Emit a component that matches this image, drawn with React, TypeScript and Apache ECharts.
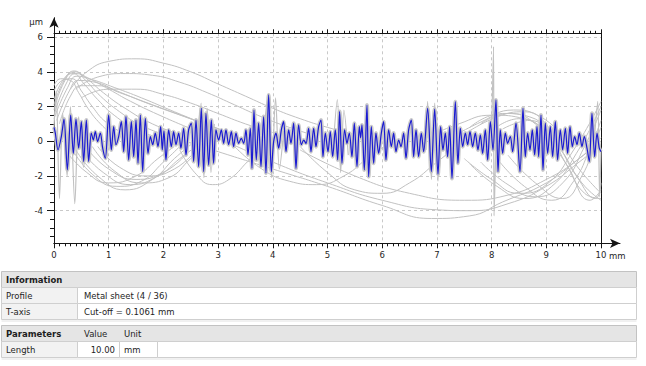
import React, { useEffect, useRef } from "react";
import * as echarts from "echarts";

type P = [number, number];

// ---------- axis ticks ----------
const xMax = 10;
const yMin = -5.88;
const yMax = 6.22;
const yMajorTicks = [-4, -2, 0, 2, 4, 6];
const yMinorTicks = [-5.5, -5, -4.5, -3.5, -3, -2.5, -1.5, -1, -0.5, 0.5, 1, 1.5, 2.5, 3, 3.5, 4.5, 5, 5.5];

// ---------- blue profile (profile 4 of 36), read segment by segment ----------
const blue0: P[] = [[0,0.8],[0.024,0.47],[0.073,-0.5],[0.134,0.27],[0.183,1.28],[0.244,-1.65],[0.305,1.51],[0.353,-0.7],[0.402,1.28],[0.451,-0.4],[0.5,1.13],[0.542,-1.17],[0.591,1.22],[0.634,-1.17],[0.682,0.47],[0.719,0.07],[0.755,0.55],[0.798,-0.02],[0.847,0.47],[0.89,-0.4],[0.938,-0.98],[0.999,1.51],[1.048,-0.5],[1.091,0.84],[1.133,-0.2],[1.182,0.27],[1.231,1.13],[1.274,-0.6],[1.316,1.42],[1.365,-1.08],[1.414,1.13],[1.457,-0.89],[1.499,1.22],[1.536,-1.27],[1.578,1.51],[1.621,-1.75],[1.67,1.32],[1.719,-0.7],[1.761,0.27],[1.804,-0.2],[1.852,0.47],[1.901,-0.31],[1.95,0.84],[1.98,-0.5]];
const blue1: P[] = [[2.01,0.6],[2.047,-1.08],[2.096,0.65],[2.145,-0.31],[2.187,0.55],[2.23,-0.2],[2.279,0.47],[2.321,-0.4],[2.37,0.75],[2.413,-0.79],[2.461,0.65],[2.51,1.04],[2.553,-1.17],[2.596,1.22],[2.644,-1.46],[2.693,1.9],[2.736,-1.75],[2.778,1.61],[2.827,-1.37],[2.876,1.22],[2.918,-1.27],[2.961,0.65],[3.01,0.07],[3.059,0.65],[3.101,-0.12],[3.144,0.65],[3.193,-0.2],[3.242,0.55],[3.284,-0.31],[3.327,0.47],[3.376,-0.12],[3.424,0.17],[3.467,-0.12],[3.51,0.65],[3.546,-0.79],[3.589,0.75],[3.619,-1.56],[3.656,1.8],[3.698,-1.08],[3.741,1.04],[3.784,-1.46],[3.832,1.42],[3.875,-1.84],[3.924,2.67],[3.973,-1.75]];
const blue2: P[] = [[4.015,-0.02],[4.058,0.47],[4.107,-0.4],[4.156,0.65],[4.198,1.13],[4.241,-0.6],[4.29,0.65],[4.332,-0.12],[4.381,1.04],[4.424,-1.56],[4.472,0.94],[4.521,-0.2],[4.564,0.07],[4.607,-0.12],[4.655,0.75],[4.698,-0.6],[4.747,0.75],[4.789,-0.31],[4.838,0.84],[4.881,1.22],[4.917,-0.89],[4.96,0.47],[5.009,-0.6],[5.051,0.55],[5.094,-0.89],[5.143,0.65],[5.186,-1.08],[5.222,1.71],[5.265,-1.27],[5.313,0.65],[5.356,-0.12],[5.399,0.47],[5.447,-0.89],[5.49,1.04],[5.539,-1.46],[5.582,0.84],[5.606,0.2],[5.63,0.94],[5.673,-1.65],[5.722,2.09],[5.752,-2.04],[5.801,0.84],[5.844,-1.27],[5.886,0.47],[5.935,-0.7],[5.984,0.47]];
const blue3: P[] = [[6.026,1.13],[6.069,-1.08],[6.118,0.65],[6.167,-0.31],[6.209,0.47],[6.252,-0.6],[6.301,0.07],[6.343,-0.31],[6.392,0.47],[6.435,-0.98],[6.483,0.65],[6.532,1.22],[6.575,-0.89],[6.618,0.65],[6.666,-0.89],[6.715,0.47],[6.758,-0.6],[6.831,1.9],[6.898,-1.75],[6.959,1.85],[7.02,-1.9],[7.068,0.84],[7.111,-0.5],[7.154,0.47],[7.196,-0.89],[7.233,0.84],[7.276,-2.14],[7.337,2.28],[7.385,-1.27],[7.428,0.75],[7.471,-0.31],[7.52,0.47],[7.562,-0.2],[7.605,0.55],[7.654,-0.31],[7.702,0.47],[7.751,-0.5],[7.794,0.37],[7.836,-0.7],[7.885,0.65],[7.928,-1.08],[7.977,1.13]];
const blue4: P[] = [[8.025,-0.5],[8.08,2.38],[8.117,-1.75],[8.159,0.65],[8.202,-0.7],[8.251,0.47],[8.293,-0.12],[8.342,0.27],[8.385,-0.6],[8.446,1.04],[8.519,-1.75],[8.574,1.9],[8.616,-0.89],[8.659,0.47],[8.702,-0.5],[8.744,0.65],[8.787,-0.79],[8.83,0.84],[8.86,-0.89],[8.903,1.51],[8.94,-1.65],[8.982,1.04],[9.025,-0.7],[9.073,0.84],[9.116,-0.89],[9.165,1.13],[9.207,-1.08],[9.256,0.65],[9.299,-0.5],[9.348,0.75],[9.39,-0.7],[9.433,0.84],[9.476,-0.31],[9.518,0.27],[9.561,-0.2],[9.604,0.47],[9.652,-0.31],[9.695,0.27],[9.744,-0.4],[9.786,-1.17],[9.835,1.61],[9.884,-0.89],[9.927,0.47],[9.969,-0.4],[10,-0.6]];

// ---------- gray: sharp excursions of the other profiles ----------
const spike0: P[] = [[0,0.8],[0.04,2.9],[0.1,-3.3],[0.16,1.6],[0.24,-2.0],[0.3,2.0],[0.38,-3.6],[0.45,1.4],[0.54,-1.5],[0.6,0.5]];
const spike1: P[] = [[2.6,-0.5],[2.69,2.2],[2.74,-2.1],[2.8,1.9],[2.87,-1.8],[2.93,1.0]];
const spike2: P[] = [[3.83,0.5],[3.92,2.7],[3.98,-2.1],[4.05,2.5],[4.12,-1.6],[4.2,0.6]];
const spike3: P[] = [[5.1,-0.5],[5.18,2.4],[5.24,-1.8],[5.3,1.8],[5.38,-0.8]];
const spike4: P[] = [[6.8,-0.5],[6.83,2.3],[6.9,-2.2],[6.96,2.2],[7.02,-2.3],[7.1,0.5]];
const spike5: P[] = [[8.0,0.2],[8.035,5.45],[8.045,-4.3],[8.1,1.2],[8.13,-0.5]];
const spike6: P[] = [[9.88,0.2],[9.94,2.3],[9.975,-3.2],[10,-0.5]];

// ---------- gray: smooth long-wave profiles ----------
const arcA: P[] = [[0.3,3.0],[0.6,4.0],[1.0,4.6],[1.5,4.75],[2.0,4.5],[2.5,4.0],[3.0,3.3],[3.5,2.6],[4.0,1.9],[4.5,1.3],[5.0,0.8],[5.5,0.4],[6.0,0.1]];
const arcB: P[] = [[0.4,3.0],[0.8,3.7],[1.3,3.9],[1.8,3.8],[2.3,3.4],[2.8,2.8],[3.3,2.1],[3.8,1.4],[4.3,0.8],[4.8,0.3]];
const arcC: P[] = [[0.5,2.5],[1.0,3.0],[1.5,3.0],[2.0,2.7],[2.5,2.2],[3.0,1.6],[3.5,1.0],[4.0,0.5]];
const fan1: P[] = [[0,1.8],[0.2,3.5],[0.38,4.0],[0.6,3.6],[0.9,2.8],[1.3,1.9],[1.8,1.0],[2.3,0.4]];
const fan2: P[] = [[0,1.5],[0.22,3.3],[0.4,3.9],[0.65,3.6],[1.0,3.0],[1.4,2.3],[2.0,1.4],[2.6,0.6]];
const fan3: P[] = [[0,1.3],[0.25,3.1],[0.42,3.75],[0.7,3.55],[1.1,3.1],[1.6,2.5],[2.2,1.7],[2.9,0.8]];
const fan4: P[] = [[0,2.4],[0.18,3.6],[0.35,3.9],[0.55,3.3],[0.8,2.4],[1.1,1.5],[1.5,0.7],[1.9,0.2]];
const fan5: P[] = [[0,2.9],[0.15,3.5],[0.33,3.6],[0.5,2.9],[0.7,2.0],[0.95,1.1],[1.3,0.4]];
const fan6: P[] = [[0.1,1.0],[0.3,2.6],[0.5,3.2],[0.8,3.2],[1.2,2.8],[1.8,2.1],[2.5,1.3],[3.2,0.5]];
const fan7: P[] = [[0,2.1],[0.2,3.6],[0.37,4.05],[0.58,3.5],[0.85,2.6],[1.2,1.7],[1.6,0.9],[2.1,0.3]];
const fan8: P[] = [[0.05,1.2],[0.28,2.9],[0.45,3.5],[0.75,3.4],[1.15,2.9],[1.7,2.2],[2.4,1.4],[3.1,0.6]];
const fan9: P[] = [[0,3.2],[0.12,3.6],[0.3,3.5],[0.45,2.8],[0.62,1.9],[0.85,1.0],[1.1,0.3]];
const valley1: P[] = [[0.4,-0.5],[0.8,-2.0],[1.3,-2.8],[1.8,-2.2],[2.2,-1.0],[2.5,-0.2]];
const valley2: P[] = [[0.5,-0.5],[0.9,-1.8],[1.4,-2.5],[1.9,-2.0],[2.3,-1.0],[2.6,-0.3]];
const valley3: P[] = [[0.6,-0.4],[1.0,-1.6],[1.5,-2.2],[2.0,-1.8],[2.4,-0.8]];
const valley4: P[] = [[0.2,-0.5],[0.6,-1.8],[1.0,-2.4],[1.5,-2.0],[1.9,-1.0],[2.2,-0.3]];
const valley5: P[] = [[2.3,-0.5],[2.6,-1.9],[2.9,-2.5],[3.2,-2.2],[3.6,-1.0],[3.9,-0.3]];
const valley6: P[] = [[3.3,-0.3],[3.8,-1.6],[4.3,-2.3],[4.8,-2.5],[5.3,-2.0],[5.8,-0.8],[6.2,0]];
const valley7: P[] = [[4.5,-0.3],[5.0,-1.8],[5.5,-2.8],[6.0,-3.0],[6.5,-2.4],[7.0,-1.2],[7.4,-0.2]];
const valley8: P[] = [[0.3,-0.3],[0.7,-1.9],[1.15,-2.6],[1.6,-2.3],[2.0,-1.2],[2.3,-0.3]];
const valley9: P[] = [[0.7,-0.3],[1.1,-1.7],[1.6,-2.4],[2.1,-2.1],[2.5,-1.0],[2.8,-0.2]];
const valley10: P[] = [[0.8,-0.3],[1.2,-1.5],[1.7,-2.0],[2.2,-1.6],[2.6,-0.5]];
const wide1: P[] = [[2.0,0.4],[3.0,-0.6],[4.0,-1.6],[5.0,-2.6],[6.0,-3.7],[6.9,-4.45],[7.6,-4.3],[8.2,-3.5],[9.0,-2.4],[9.6,-1.0],[10,0]];
const wide2: P[] = [[3.0,0.2],[4.0,-1.2],[5.0,-2.4],[6.0,-3.4],[7.0,-3.95],[7.6,-4.0],[8.3,-3.6],[9.0,-2.6],[9.6,-1.2],[10,-0.2]];
const wide3: P[] = [[4.5,-0.5],[5.5,-2.0],[6.5,-3.0],[7.5,-3.4],[8.3,-3.1],[9.0,-2.2],[9.6,-1.0],[10,0.2]];
const mesh1: P[] = [[7.5,-1.0],[8.0,-2.2],[8.5,-3.0],[9.0,-2.5],[9.5,-0.5],[10,2.3]];
const mesh2: P[] = [[7.8,-1.2],[8.3,-2.5],[8.8,-3.2],[9.3,-2.4],[9.7,-0.3],[10,1.8]];
const mesh3: P[] = [[8.1,-1.0],[8.6,-2.6],[9.1,-3.4],[9.5,-2.3],[9.8,-0.4],[10,1.2]];
const mesh4: P[] = [[7.8,1.0],[8.3,1.6],[8.8,1.0],[9.3,-1.0],[9.7,-3.0],[10,-3.3]];
const mesh5: P[] = [[8.0,0.6],[8.5,1.3],[9.0,0.5],[9.4,-1.5],[9.8,-3.4],[10,-2.8]];
const mesh6: P[] = [[7.5,0.4],[8.1,1.4],[8.6,1.7],[9.1,0.6],[9.6,-1.6],[10,-3.0]];
const mesh7: P[] = [[7.6,-1.3],[8.1,-2.6],[8.6,-3.3],[9.1,-2.6],[9.55,-0.7],[10,2.0]];
const mesh8: P[] = [[8.3,-0.8],[8.8,-2.4],[9.3,-3.3],[9.65,-2.0],[9.9,0.0],[10,0.8]];
const mesh9: P[] = [[7.6,0.8],[8.2,1.6],[8.7,1.4],[9.2,-0.2],[9.65,-2.4],[10,-3.4]];
const mesh10: P[] = [[8.2,0.7],[8.7,1.2],[9.15,0.0],[9.55,-2.0],[9.9,-3.3],[10,-2.4]];
const ridge1: P[] = [[6.8,0.2],[7.4,1.0],[8.0,1.5],[8.6,1.3],[9.1,0.3]];
const ridge2: P[] = [[7.2,0.1],[7.8,1.1],[8.4,1.8],[8.9,1.4],[9.3,0.3]];

// ---------- tables ----------
const infoTitle = "Information";
const infoLabels = ["Profile", "T-axis"];
const infoValues = ["Metal sheet (4 / 36)", "Cut-off = 0.1061 mm"];
const paramHeader = ["Parameters", "Value", "Unit"];
const paramLabels = ["Length"];
const paramValues = ["10.00"];
const paramUnits = ["mm"];

const FONT = '"DejaVu Sans", Verdana, sans-serif';
const AX = "#151515";
const GRAY = "#c1c1c1";

function buildTables(): any[] {
  const els: any[] = [];
  const L = 1.5, R = 636.5, W = R - L;
  const rect = (x: number, y: number, w: number, h: number, fill: string, stroke = "#cfcfcf") =>
    els.push({ type: "rect", silent: true, shape: { x, y, width: w, height: h }, style: { fill, stroke, lineWidth: 1 } });
  const text = (t: string, x: number, y: number, bold = false, align = "left") =>
    els.push({
      type: "text", silent: true, x, y,
      style: { text: t, font: `${bold ? "bold " : ""}8.5px ${FONT}`, fill: "#1e1e1e", align, verticalAlign: "middle", textAlign: align, textVerticalAlign: "middle" },
    });
  let y = 271.5;
  rect(L, y, W, 16, "#e5e5e5", "#c2c2c2");
  text(infoTitle, 6, y + 8.5, true);
  y += 16;
  infoLabels.forEach((lab, i) => {
    rect(L, y, 76, 16, "#f2f2f2");
    rect(L + 76, y, W - 76, 16, "#ffffff");
    text(lab, 6, y + 8.5);
    text(infoValues[i], 84, y + 8.5);
    y += 16;
  });
  els.push({ type: "line", silent: true, shape: { x1: L, y1: y + 1.5, x2: R, y2: y + 1.5 }, style: { stroke: "#e2e2e2", lineWidth: 1 } });
  y = 325.5;
  rect(L, y, W, 16, "#e5e5e5", "#c2c2c2");
  text(paramHeader[0], 6, y + 8.5, true);
  text(paramHeader[1], 84, y + 8.5);
  text(paramHeader[2], 124, y + 8.5);
  y += 16;
  paramLabels.forEach((lab, i) => {
    rect(L, y, 76, 16, "#f2f2f2");
    rect(L + 76, y, 42, 16, "#ffffff");
    rect(L + 118, y, 38, 16, "#ffffff");
    rect(L + 156, y, W - 156, 16, "#ffffff");
    text(lab, 6, y + 8.5);
    text(paramValues[i], 115, y + 8.5, false, "right");
    text(paramUnits[i], 124, y + 8.5);
    y += 16;
  });
  els.push({ type: "line", silent: true, shape: { x1: L, y1: y + 1.5, x2: R, y2: y + 1.5 }, style: { stroke: "#e2e2e2", lineWidth: 1 } });
  return els;
}

const line = (data: P[], color: string, width: number, smooth: number | boolean, z = 2) => ({
  type: "line", xAxisIndex: 0, yAxisIndex: 0, data, showSymbol: false, symbol: "none",
  smooth, silent: true, z, lineStyle: { color, width }, emphasis: { disabled: true },
});

export default function App() {
  const ref = useRef<HTMLDivElement>(null);
  useEffect(() => {
    if (!ref.current) return;
    const chart = echarts.init(ref.current, undefined, { renderer: "svg" });
    const blue = [...blue0, ...blue1, ...blue2, ...blue3, ...blue4];
    const smoothGray = [arcA, arcB, arcC, fan1, fan2, fan3, fan4, fan5, fan6, fan7, fan8, fan9,
      valley1, valley2, valley3, valley4, valley5, valley6, valley7, valley8, valley9, valley10,
      wide1, wide2, wide3, mesh1, mesh2, mesh3, mesh4, mesh5, mesh6, mesh7, mesh8, mesh9, mesh10, ridge1, ridge2];
    const spikes = [spike0, spike1, spike2, spike3, spike4, spike5, spike6];
    const hidden = { axisLine: { show: false }, axisTick: { show: false }, axisLabel: { show: false }, splitLine: { show: false } };
    const option: any = {
      animation: false,
      backgroundColor: "#ffffff",
      grid: [
        { left: 54, right: 45, top: 33.3, bottom: 122.7, containLabel: false, outerBoundsMode: "none" },
        { left: 54, right: 26, top: 17.7, bottom: 122.7, containLabel: false, outerBoundsMode: "none" },
      ],
      xAxis: [
        {
          gridIndex: 0, type: "value", min: 0, max: xMax, interval: 1, position: "bottom",
          axisLine: { show: true, onZero: false, lineStyle: { color: AX, width: 1 } },
          axisTick: { show: true, inside: false, length: 5, lineStyle: { color: AX } },
          minorTick: { show: true, splitNumber: 10, length: 3, lineStyle: { color: AX } },
          axisLabel: { show: true, margin: 7, color: "#1e1e1e", fontFamily: FONT, fontSize: 8.5, showMinLabel: true, showMaxLabel: true },
          splitLine: { show: true, showMinLine: false, showMaxLine: false, lineStyle: { color: "#c9c9c9", type: [3, 3], width: 1 } },
          name: "mm", nameLocation: "end", nameGap: 8, nameMoveOverlap: false,
          nameTextStyle: { color: "#1e1e1e", fontFamily: FONT, fontSize: 8.5, align: "left", verticalAlign: "top", padding: [8, 0, 0, 0] },
        },
        {
          gridIndex: 0, type: "value", min: 0, max: xMax, interval: 1, position: "top",
          axisLine: { show: true, onZero: false, lineStyle: { color: AX, width: 1 } },
          axisTick: { show: true, inside: false, length: 4, lineStyle: { color: AX } },
          minorTick: { show: true, splitNumber: 10, length: 2.5, lineStyle: { color: AX } },
          axisLabel: { show: false }, splitLine: { show: false },
        },
        {
          gridIndex: 1, type: "value", min: 0, max: 1, position: "bottom", ...hidden,
          axisLine: { show: true, onZero: false, symbol: ["none", "arrow"], symbolSize: [7, 10], lineStyle: { color: AX, width: 1 } },
        },
      ],
      yAxis: [
        {
          gridIndex: 0, type: "value", min: yMin, max: yMax, position: "left",
          axisLine: { show: false, onZero: false },
          axisTick: { show: true, inside: false, length: 7, customValues: yMajorTicks, lineStyle: { color: AX } },
          axisLabel: { show: true, customValues: yMajorTicks, margin: 11, color: "#1e1e1e", fontFamily: FONT, fontSize: 8.5 },
          splitLine: { show: true, lineStyle: { color: "#c9c9c9", type: [3, 3], width: 1 } },
          name: "µm", nameLocation: "end", nameGap: 11, nameMoveOverlap: false,
          nameTextStyle: { color: "#1e1e1e", fontFamily: FONT, fontSize: 8.5, align: "right", verticalAlign: "middle", padding: [0, 11, 0, 0] },
        },
        {
          gridIndex: 0, type: "value", min: yMin, max: yMax, position: "left", ...hidden,
          axisLine: { show: false, onZero: false },
          axisTick: { show: true, inside: false, length: 4, customValues: yMinorTicks, lineStyle: { color: AX } },
        },
        {
          gridIndex: 0, type: "value", min: yMin, max: yMax, position: "right", ...hidden,
          axisLine: { show: true, onZero: false, lineStyle: { color: AX, width: 1 } },
        },
        {
          gridIndex: 1, type: "value", min: 0, max: 1, position: "left", ...hidden,
          axisLine: { show: true, onZero: false, symbol: ["none", "arrow"], symbolSize: [7, 10], lineStyle: { color: AX, width: 1 } },
        },
      ],
      series: [
        ...smoothGray.map((d) => line(d, GRAY, 1, 0.5, 1)),
        line(blue, "#cbcbcb", 4, 0.3, 1),
        ...spikes.map((d) => line(d, GRAY, 1.2, 0.3, 1)),
        line(blue, "#1a1ad2", 1.2, 0.3, 3),
      ],
      graphic: buildTables(),
    };
    chart.setOption(option);
    return () => chart.dispose();
  }, []);
  return <div ref={ref} style={{ position: "absolute", left: 0, top: 0, width: 646, height: 366 }} />;
}
